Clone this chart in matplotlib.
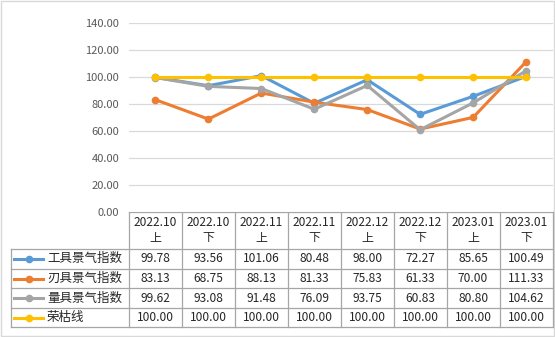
import matplotlib.pyplot as plt
from matplotlib.lines import Line2D
from matplotlib.patches import Rectangle

plt.rcParams['font.family'] = ['Noto Sans CJK SC', 'DejaVu Sans']

periods = ['2022.10', '2022.10', '2022.11', '2022.11', '2022.12', '2022.12', '2023.01', '2023.01']
halves = ['上', '下', '上', '下', '上', '下', '上', '下']
names = ['工具景气指数', '刃具景气指数', '量具景气指数', '荣枯线']
tool_idx = [99.78, 93.56, 101.06, 80.48, 98.00, 72.27, 85.65, 100.49]
blade_idx = [83.13, 68.75, 88.13, 81.33, 75.83, 61.33, 70.00, 111.33]
gauge_idx = [99.62, 93.08, 91.48, 76.09, 93.75, 60.83, 80.80, 104.62]
line_100 = [100.00] * 8
series = [tool_idx, blade_idx, gauge_idx, line_100]
colors = ['#5B9BD5', '#ED7D31', '#A5A5A5', '#FFC000']

W, H = 555, 337
fig = plt.figure(figsize=(W / 100, H / 100), dpi=100)

# layout in pixels
left, right = 129, 552.5
top, base = 23.3, 211.5
col_w = (right - left) / len(periods)

ax = fig.add_axes([left / W, 1 - base / H, (right - left) / W, (base - top) / H])
x = list(range(len(periods)))
for vals, c in zip(series, colors):
    ax.plot(x, vals, color=c, lw=2.2, marker='o', ms=4.5, solid_joinstyle='round')
ax.set_xlim(-0.5, len(periods) - 0.5)
ax.set_ylim(0, 140)
ax.set_yticks(range(0, 141, 20))
ax.set_yticklabels([f'{v:.2f}' for v in range(0, 141, 20)], fontsize=8, color='#595959')
ax.tick_params(axis='y', length=0, pad=7)
ax.set_xticks([])
ax.grid(axis='y', color='#d9d9d9', lw=0.9)
for s in ax.spines.values():
    s.set_visible(False)
ax.set_axisbelow(True)

# data table drawn on an overlay in pixel units
tax = fig.add_axes([0, 0, 1, 1], zorder=-1)
tax.set_xlim(0, W)
tax.set_ylim(H, 0)
tax.axis('off')

bc = '#a6a6a6'
row_tops = [211.5, 249, 268.7, 288.3, 308.3, 327]
label_left = 10.5
# header row
tax.plot([left, right], [row_tops[0]] * 2, color=bc, lw=0.9)
for k in range(len(periods) + 1):
    xx = left + k * col_w
    tax.plot([xx, xx], [row_tops[0], row_tops[-1]], color=bc, lw=0.9)
tax.plot([label_left, label_left], [row_tops[1], row_tops[-1]], color=bc, lw=0.9)
for yy in row_tops[1:]:
    tax.plot([label_left, right], [yy, yy], color=bc, lw=0.9)

tc = '#262626'
for k, (p, h) in enumerate(zip(periods, halves)):
    cx = left + (k + 0.5) * col_w
    tax.text(cx, 222.5, p, ha='center', va='center', fontsize=8.6, color=tc)
    tax.text(cx, 238, h, ha='center', va='center', fontsize=8.6, color=tc)

for r, (name, vals, c) in enumerate(zip(names, series, colors)):
    cy = (row_tops[r + 1] + row_tops[r + 2]) / 2
    tax.add_line(Line2D([14, 43], [cy, cy], color=c, lw=2.2))
    tax.add_line(Line2D([28.5], [cy], color=c, marker='o', ms=4.5, lw=0))
    tax.text(47, cy, name, ha='left', va='center', fontsize=9, color=tc)
    for k, v in enumerate(vals):
        cx = left + (k + 0.5) * col_w
        tax.text(cx, cy, f'{v:.2f}', ha='center', va='center', fontsize=8.6, color=tc)

tax.add_patch(Rectangle((0.5, 0.5), W - 2, H - 2, fill=False, ec='#d9d9d9', lw=1))

fig.savefig('out.png', dpi=100)
